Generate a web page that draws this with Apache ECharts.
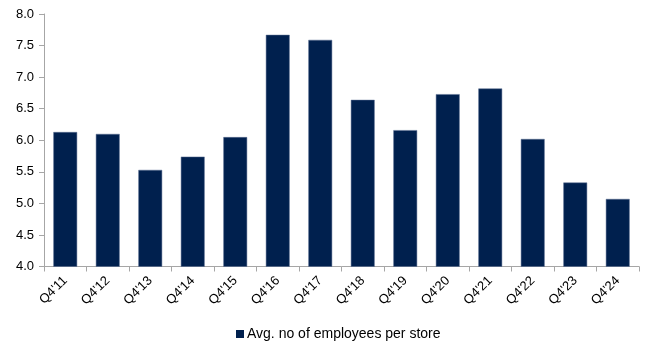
<!DOCTYPE html>
<html>
<head>
<meta charset="utf-8">
<script src="https://cdn.jsdelivr.net/npm/echarts@6/dist/echarts.min.js"></script>
<style>
  html, body { margin: 0; padding: 0; background: #fff; }
  #main { width: 652px; height: 349px; }
</style>
</head>
<body>
<div id="main"></div>
<script>
// quarters and average employees per store
var categories = ["Q4'11", "Q4'12", "Q4'13", "Q4'14", "Q4'15", "Q4'16", "Q4'17",
  "Q4'18", "Q4'19", "Q4'20", "Q4'21", "Q4'22", "Q4'23", "Q4'24"];
var employees = [6.13, 6.10, 5.53, 5.74, 6.05, 7.67, 7.59, 6.64, 6.16, 6.73, 6.82, 6.02, 5.33, 5.07];
var seriesName = 'Avg. no of employees per store';

var myChart = echarts.init(document.getElementById('main'));
var font = 'Liberation Sans, Arial, sans-serif';
var option = {
  animation: false,
  grid: { left: 44, right: 13, top: 14, bottom: 82.5 },
  legend: {
    bottom: 3,
    left: 231,
    itemWidth: 8,
    itemHeight: 8,
    icon: 'rect',
    itemGap: 4,
    itemStyle: { borderWidth: 0, color: '#00204e' },
    textStyle: { color: '#000', fontSize: 14, fontFamily: font, padding: [0, 0, 0, -2] },
    data: [seriesName]
  },
  xAxis: {
    type: 'category',
    data: categories,
    axisLine: { lineStyle: { color: '#a6a6a6' } },
    axisTick: { show: true, alignWithLabel: false, length: 5, lineStyle: { color: '#a6a6a6' } },
    axisLabel: { rotate: 45, color: '#000', fontSize: 13, fontFamily: font, margin: 12, interval: 0 }
  },
  yAxis: {
    type: 'value',
    min: 4,
    max: 8,
    interval: 0.5,
    axisLine: { show: true, lineStyle: { color: '#a6a6a6' } },
    axisTick: { show: true, length: 5, lineStyle: { color: '#a6a6a6' } },
    splitLine: { show: false },
    axisLabel: {
      color: '#000', fontSize: 13, fontFamily: font, margin: 10,
      formatter: function (v) { return v.toFixed(1); }
    }
  },
  series: [
    {
      name: seriesName,
      type: 'bar',
      data: employees,
      barWidth: '56%',
      itemStyle: { color: '#00204e', borderColor: '#5a6f92', borderWidth: 0.5 }
    }
  ]
};
myChart.setOption(option);
</script>
</body>
</html>
